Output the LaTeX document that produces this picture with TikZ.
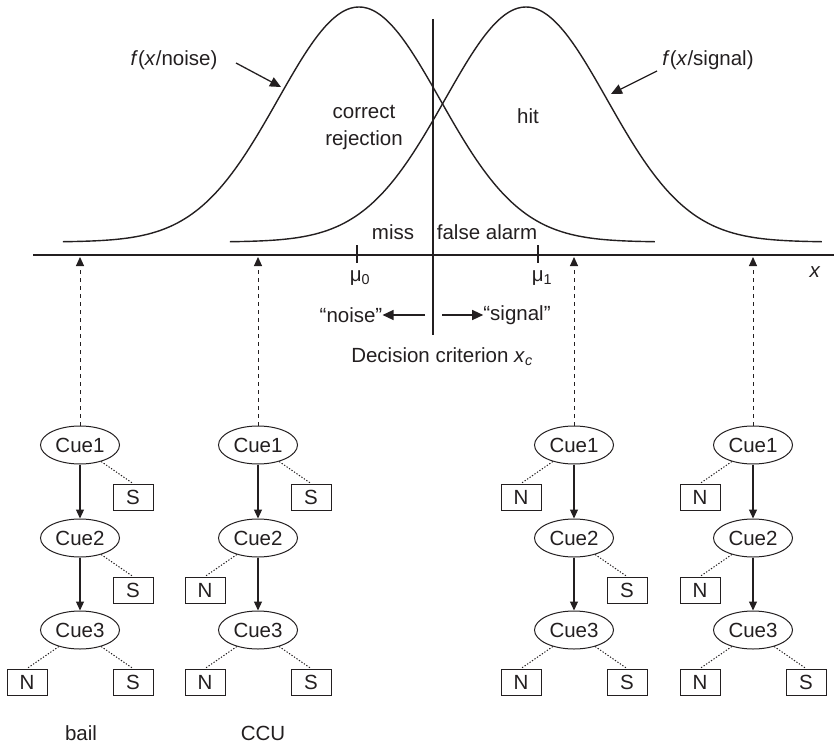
\documentclass[tikz,border=0pt]{standalone}
\usepackage{fontspec}
\setmainfont{Liberation Sans}
\usetikzlibrary{arrows.meta,shapes.geometric}
\definecolor{ink}{RGB}{35,31,32}

\begin{document}
\begin{tikzpicture}[x=1pt,y=-1pt,
  every node/.style={text=ink, inner sep=0pt, font=\fontsize{20.5}{27}\selectfont},
  cue/.style={ellipse, draw=ink, line width=1pt, minimum width=79pt, minimum height=38pt},
  leaf/.style={rectangle, draw=ink, line width=1pt, minimum width=40pt, minimum height=26pt},
  curve/.style={draw=ink, line width=1.4pt},
  axisline/.style={draw=ink, line width=1.6pt},
  tip/.style={-{Triangle[length=9pt,width=8pt]}},
  bigtip/.style={-{Triangle[length=11pt,width=10pt]}},
  link/.style={draw=ink, line width=1.2pt, tip},
  branch/.style={draw=ink, line width=1pt, dash pattern=on 1.3pt off 1.7pt},
  probe/.style={draw=ink, line width=1pt, dash pattern=on 4pt off 4pt, tip},
  pointer/.style={draw=ink, line width=1.3pt, bigtip}]

\useasboundingbox (0,0) rectangle (834,746);

% x axis and the two class densities
\coordinate (ax0) at (33,255);
\coordinate (ax1) at (834,255);
\draw[axisline] (ax0) -- (ax1);
\node (xlab) at (815,272) {\textit{x}};

\draw[curve] plot[domain=-3.655:3.655, samples=141, smooth]
  ({359+81*\x}, {242-235*exp(-0.5*\x*\x)});
\draw[curve] plot[domain=-3.655:3.655, samples=141, smooth]
  ({526+81*\x}, {242-235*exp(-0.5*\x*\x)});

% means
\coordinate (m0a) at (357,245); \coordinate (m0b) at (357,263);
\coordinate (m1a) at (538,245); \coordinate (m1b) at (538,263);
\draw[axisline] (m0a) -- (m0b);
\draw[axisline] (m1a) -- (m1b);
\node (mu0) at (360,278) {μ\textsubscript{0}};
\node (mu1) at (542,278) {μ\textsubscript{1}};

% decision criterion
\coordinate (dtop) at (433,19);
\coordinate (dbot) at (433,335);
\draw[axisline, line width=1.4pt] (dtop) -- (dbot);
\node (saynoise) at (351,315) {“noise”};
\node (saysignal) at (517,315) {“signal”};
\coordinate (ln) at (425,315);
\coordinate (rs) at (442,315);
\draw[pointer] (ln) -- (saynoise.east);
\draw[pointer] (rs) -- (saysignal.west);
\node (crit) at (442,357) {Decision criterion \textit{x}\textsubscript{\textit{c}}};

% outcome regions
\node (cr) at (364,128) [align=center] {correct\\rejection};
\node (hit) at (528,116) {hit};
\node (miss) at (393,232) {miss};
\node (fa) at (487,232) {false alarm};

% density labels
\node (fnoise) at (174,60) {\textit{f}(\textit{x}/noise)};
\node (fsignal) at (708,60) {\textit{f}(\textit{x}/signal)};
\coordinate (pn0) at (236,63);  \coordinate (pn1) at (281,87);
\coordinate (ps0) at (657,71);  \coordinate (ps1) at (611,94);
\draw[pointer] (pn0) -- (pn1);
\draw[pointer] (ps0) -- (ps1);

% fast-and-frugal trees: name / centre x / exit side of Cue1 / exit side of Cue2
\foreach \t/\cx/\sa/\sb in {a/80/1/1, b/258/1/-1, c/574/-1/1, d/753/-1/-1} {
  \node[cue] (\t1) at (\cx,445) {Cue1};
  \node[cue] (\t2) at (\cx,538) {Cue2};
  \node[cue] (\t3) at (\cx,630) {Cue3};
  \draw[link] (\t1) -- (\t2);
  \draw[link] (\t2) -- (\t3);
  \ifnum\sa>0
    \node[leaf] (\t1x) at (\cx+53,497) {S};
    \draw[branch] (\t1.-38) -- (\t1x.north);
  \else
    \node[leaf] (\t1x) at (\cx-53,497) {N};
    \draw[branch] (\t1.-142) -- (\t1x.north);
  \fi
  \ifnum\sb>0
    \node[leaf] (\t2x) at (\cx+53,590) {S};
    \draw[branch] (\t2.-38) -- (\t2x.north);
  \else
    \node[leaf] (\t2x) at (\cx-53,590) {N};
    \draw[branch] (\t2.-142) -- (\t2x.north);
  \fi
  \node[leaf] (\t3n) at (\cx-53,682) {N};
  \node[leaf] (\t3s) at (\cx+53,682) {S};
  \draw[branch] (\t3.-142) -- (\t3n.north);
  \draw[branch] (\t3.-38) -- (\t3s.north);
  \coordinate (\t up) at (\cx,257);
  \draw[probe] (\t1) -- (\t up);
}

\node (bail) at (81,733) {bail};
\node (ccu) at (263,733) {CCU};
\end{tikzpicture}
\end{document}
